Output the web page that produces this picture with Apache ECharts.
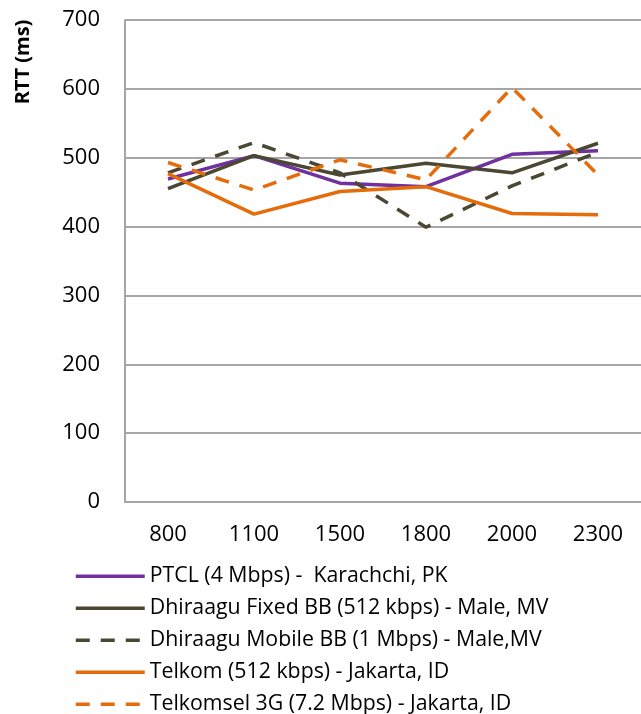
<!DOCTYPE html>
<html>

<head>
    <script src="https://cdn.jsdelivr.net/npm/echarts@6.0.0/dist/echarts.min.js"></script>
</head>

<body style="margin:0">
    <div id="echartsMain" style="width: 641px; height: 714px;"></div>
</body>

</html>

<script type="text/javascript">
    let categories = ['800', '1100', '1500', '1800', '2000', '2300']

    let ptcl = [469, 503, 463, 458, 505, 510]
    let dhiFixed = [455, 503, 475, 492, 478, 521]
    let dhiMobile = [478, 522, 478, 399, 459, 508]
    let telkom = [477, 418, 451, 458, 419, 417]
    let telkomsel = [493, 453, 497, 468, 602, 475]

    let names = [
        'PTCL (4 Mbps) -  Karachchi, PK',
        'Dhiraagu Fixed BB (512 kbps) - Male, MV',
        'Dhiraagu Mobile BB (1 Mbps) - Male,MV',
        'Telkom (512 kbps) - Jakarta, ID',
        'Telkomsel 3G (7.2 Mbps) - Jakarta, ID'
    ]

    let purple = '#7030A0'
    let olive = '#4A4732'
    let orange = '#E46C0A'
    let gridGray = '#A6A6A6'
    let font = 'Open Sans'

    function line(name, data, color, dashed) {
        return {
            name: name,
            type: 'line',
            data: data,
            symbol: 'none',
            lineStyle: {
                color: color,
                width: 3.5,
                type: dashed ? [14, 11] : 'solid'
            },
            itemStyle: { color: color }
        }
    }

    let myChart = echarts.init(document.getElementById('echartsMain'))

    let option = {
        animation: false,
        grid: { left: 125, right: 0, top: 20, bottom: 212 },
        graphic: [{
            type: 'text',
            x: 23,
            y: 62,
            rotation: Math.PI / 2,
            style: {
                text: 'RTT (ms)',
                font: 'bold 20px "Open Sans"',
                fill: '#000',
                align: 'center',
                verticalAlign: 'middle'
            }
        }],
        xAxis: {
            type: 'category',
            data: categories,
            boundaryGap: true,
            axisLine: { lineStyle: { color: gridGray, width: 2 } },
            axisTick: { show: false },
            axisLabel: { color: '#000', fontSize: 22, fontFamily: font, margin: 15 }
        },
        yAxis: {
            type: 'value',
            min: 0,
            max: 700,
            interval: 100,
            axisLine: { show: true, lineStyle: { color: gridGray, width: 2 } },
            axisTick: { show: false },
            axisLabel: { color: '#000', fontSize: 22, fontFamily: font, margin: 25 },
            splitLine: { lineStyle: { color: gridGray, width: 2 } }
        },
        legend: {
            orient: 'vertical',
            left: 74,
            top: 559,
            height: 400,
            padding: 0,
            itemWidth: 69,
            itemHeight: 14,
            itemGap: -2.6,
            itemStyle: { opacity: 0 },
            lineStyle: { width: 3.5 },
            textStyle: { color: '#000', fontSize: 21.3, fontFamily: font, lineHeight: 22 },
            data: names
        },
        series: [
            line(names[0], ptcl, purple, false),
            line(names[1], dhiFixed, olive, false),
            line(names[2], dhiMobile, olive, true),
            line(names[3], telkom, orange, false),
            line(names[4], telkomsel, orange, true)
        ]
    }
    myChart.setOption(option)
</script>
